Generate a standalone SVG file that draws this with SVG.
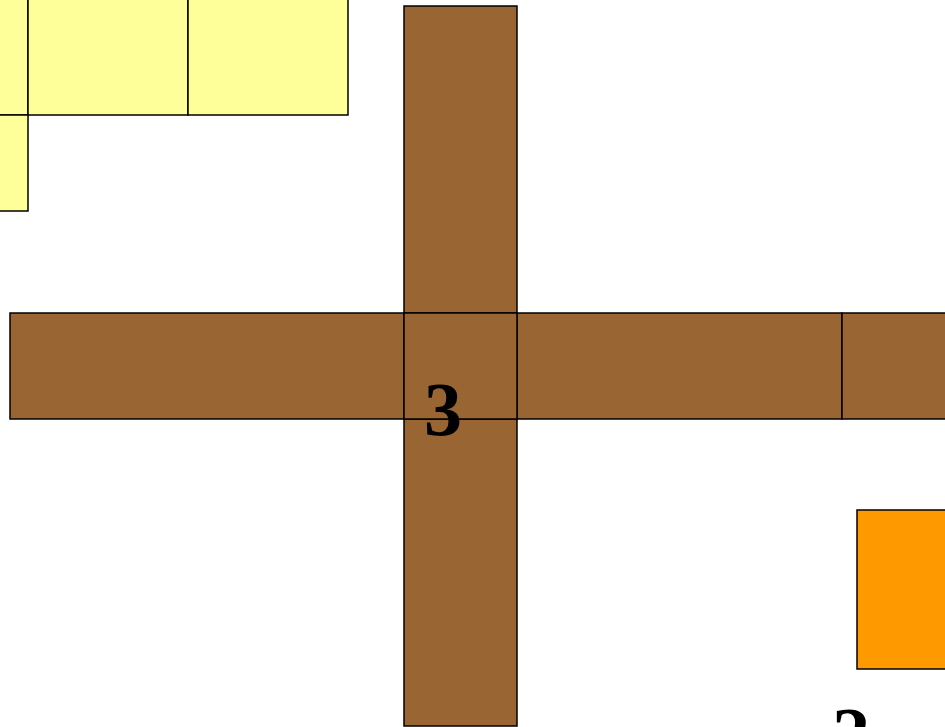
<svg xmlns="http://www.w3.org/2000/svg" width="945" height="727" viewBox="0 0 945 727">
<style>
.y{fill:#FFFF99;stroke:#000;stroke-width:1.5}
.b{fill:#996633;stroke:#000;stroke-width:1.5}
.o{fill:#FF9900;stroke:#000;stroke-width:1.5}
.t{font-family:"Liberation Serif",serif;font-weight:bold;font-size:76px;fill:#000;text-anchor:middle}
</style>
<rect width="945" height="727" fill="#fff"/>
<g id="yellow">
<rect class="y" x="-20" y="-20" width="48" height="135"/>
<rect class="y" x="28" y="-20" width="160" height="135"/>
<rect class="y" x="188" y="-20" width="160" height="135"/>
<rect class="y" x="-20" y="115" width="48" height="96"/>
</g>
<g id="cross">
<rect class="b" x="404" y="6" width="113" height="307"/>
<rect class="b" x="10" y="313" width="394" height="106"/>
<rect class="b" x="517" y="313" width="325" height="106"/>
<rect class="b" x="842" y="313" width="120" height="106"/>
<rect class="b" x="404" y="419" width="113" height="307"/>
<rect class="b" x="404" y="313" width="113" height="106"/>
<text class="t" x="443" y="435">3</text>
</g>
<g id="orange">
<rect class="o" x="857" y="510" width="100" height="159"/>
</g>
<g id="label2">
<text class="t" x="851" y="760">2</text>
</g>
</svg>
